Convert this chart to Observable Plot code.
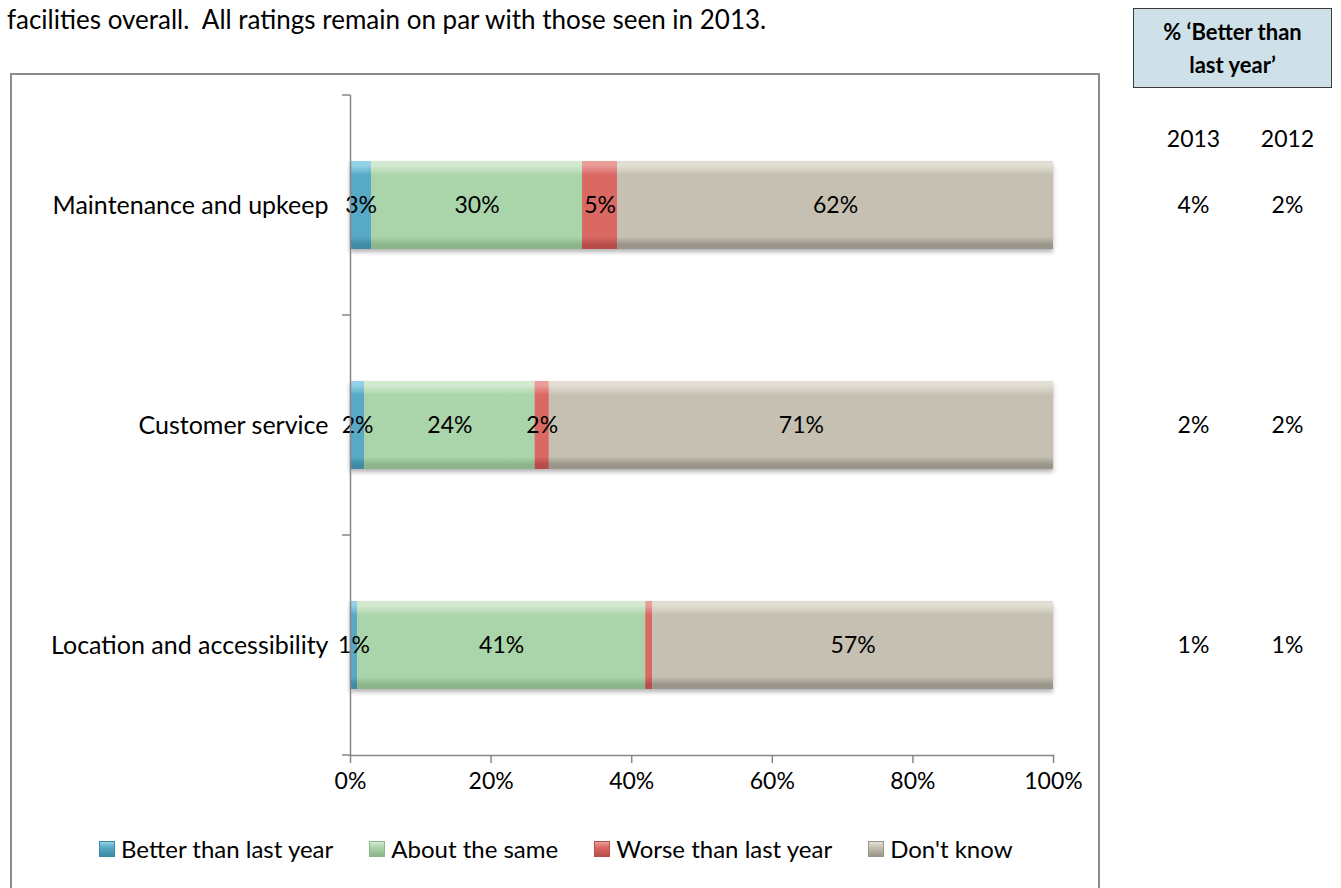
<!DOCTYPE html>
<html><head><meta charset="utf-8">
<script src="https://cdn.jsdelivr.net/npm/d3@7"></script>
<script src="https://cdn.jsdelivr.net/npm/@observablehq/plot@0.6"></script>
<style>
body{margin:0;background:#fff;font-family:Lato,"Open Sans",sans-serif;color:#000;}
#page{position:relative;width:1341px;height:888px;overflow:hidden;}
#intro{position:absolute;left:7px;top:4px;font-size:26px;line-height:30px;white-space:nowrap;}
#frame{position:absolute;left:10px;top:73px;width:1086px;height:900px;border:2px solid #8c8c8c;}
#box{position:absolute;left:1133px;top:8px;width:197px;border:1.5px solid #3b3b3b;background:#cfe1e8;
  font-weight:bold;font-size:22px;line-height:33px;text-align:center;box-sizing:content-box;padding-top:6px;height:72px;}
#chart{position:absolute;left:0;top:0;}
#legend{position:absolute;left:99px;top:834px;display:flex;align-items:center;gap:36px;font-size:24px;white-space:nowrap;}
#legend .it{display:flex;align-items:center;gap:6px;}
#legend .sw{width:14px;height:14px;}
</style></head><body><div id="page">
<div id="intro">facilities overall.&nbsp; All ratings remain on par with those seen in 2013.</div>
<div id="frame"></div>
<div id="box">% ‘Better than<br>last year’</div>
<div id="chart"></div>
<div id="legend"></div>
</div>
<script>
// ---- data ----
const categories = ["Maintenance and upkeep", "Customer service", "Location and accessibility"];
const series = ["Better than last year", "About the same", "Worse than last year", "Don't know"];
const maintenanceValues = [3, 30, 5, 62];
const customerValues = [2, 24, 2, 71];
const locationValues = [1, 41, 1, 57];
const better2013 = ["4%", "2%", "1%"];
const better2012 = ["2%", "2%", "1%"];
const yearHeaders = ["2013", "2012"];
const xTicks = [0, 0.2, 0.4, 0.6, 0.8, 1];
const hiddenLabels = [["Location and accessibility", "Worse than last year"]];

// colours: [top highlight, base, bottom shade]
const seriesColors = [
  ["#93d2e6", "#58a9c6", "#3f8aa3"],
  ["#d3ead1", "#aad4a9", "#8db58c"],
  ["#eb9d99", "#da6764", "#b64d4b"],
  ["#e2ded3", "#c5c0b1", "#99958a"]
];

const valueTable = [maintenanceValues, customerValues, locationValues];
const rows = [];
categories.forEach((c, i) => series.forEach((s, j) => rows.push({category: c, series: s, value: valueTable[i][j]})));
const isHidden = d => hiddenLabels.some(([c, s]) => c === d.category && s === d.series);

const font = "Lato, 'Open Sans', sans-serif";
const chart = Plot.plot({
  width: 1341, height: 888,
  marginLeft: 350, marginRight: 288, marginTop: 95, marginBottom: 133,
  style: {fontFamily: font, fontSize: "23px", color: "#000", background: "transparent", overflow: "visible"},
  x: {domain: [0, 1], label: null},
  y: {domain: categories, paddingInner: 0.6, paddingOuter: 0.3, label: null},
  color: {domain: series, range: series.map((s, i) => `url(#grad${i})`)},
  marks: [
    Plot.barX(rows, Plot.stackX({x: "value", y: "category", fill: "series", order: series, offset: "normalize"})),
    Plot.text(rows, Plot.stackX({x: "value", y: "category", z: "series", order: series, offset: "normalize",
      text: d => isHidden(d) ? "" : d.value + "%", fill: "#000", fontSize: 23})),
    Plot.frame({anchor: "left", stroke: "#868686", strokeWidth: 1.5}),
    Plot.frame({anchor: "bottom", stroke: "#868686", strokeWidth: 1.5}),
    Plot.axisX({ticks: xTicks, tickFormat: d3.format(".0%"), tickSize: 8, tickPadding: 9, fontSize: 23, label: null}),
    Plot.axisY({tickSize: 0, tickPadding: 22, fontSize: 25, label: null}),
    Plot.text(categories, {y: d => d, text: (d, i) => better2013[i], frameAnchor: "right", dx: 140, textAnchor: "middle", fontSize: 23}),
    Plot.text(categories, {y: d => d, text: (d, i) => better2012[i], frameAnchor: "right", dx: 234, textAnchor: "middle", fontSize: 23}),
    Plot.text([yearHeaders[0]], {text: d => d, frameAnchor: "top-right", dx: 140, dy: 44, textAnchor: "middle", lineAnchor: "middle", fontSize: 23}),
    Plot.text([yearHeaders[1]], {text: d => d, frameAnchor: "top-right", dx: 234, dy: 44, textAnchor: "middle", lineAnchor: "middle", fontSize: 23})
  ]
});

const svg = d3.select(chart);
const defs = svg.insert("defs", ":first-child");
seriesColors.forEach(([hi, base, lo], i) => {
  const g = defs.append("linearGradient").attr("id", `grad${i}`).attr("x1", 0).attr("y1", 0).attr("x2", 0).attr("y2", 1);
  [[0, hi], [0.05, hi], [0.16, base], [0.86, base], [0.95, lo], [1, lo]].forEach(([o, c]) =>
    g.append("stop").attr("offset", o).attr("stop-color", c));
});
const f = defs.append("filter").attr("id", "shadow").attr("x", "-5%").attr("y", "-20%").attr("width", "110%").attr("height", "150%");
f.append("feDropShadow").attr("dx", 0).attr("dy", 3).attr("stdDeviation", 2).attr("flood-color", "#000").attr("flood-opacity", 0.3);
svg.selectAll('g[aria-label="bar"]').attr("filter", "url(#shadow)");
svg.selectAll('g[aria-label="x-axis tick"]').attr("stroke", "#868686").attr("stroke-width", 1.5);

// y-axis boundary ticks from the y scale
const ys = chart.scale("y"), xs = chart.scale("x");
const x0 = xs.apply(0);
const bounds = d3.range(categories.length + 1).map(i => ys.range[0] + i * ys.step);
svg.append("g").selectAll("line").data(bounds).join("line")
  .attr("x1", x0 - 8).attr("x2", x0).attr("y1", d => d).attr("y2", d => d)
  .attr("stroke", "#868686").attr("stroke-width", 1.5);

document.getElementById("chart").appendChild(chart);

// legend
const legend = d3.select("#legend");
series.forEach((s, i) => {
  const [hi, base, lo] = seriesColors[i];
  const it = legend.append("div").attr("class", "it");
  it.append("div").attr("class", "sw").style("background", `linear-gradient(${hi}, ${base} 40%, ${lo})`).style("border", `1px solid ${lo}`);
  it.append("span").text(s);
});
</script>
</body></html>
